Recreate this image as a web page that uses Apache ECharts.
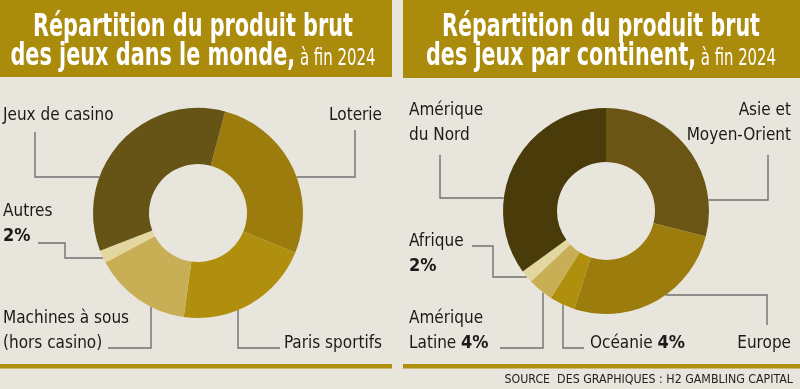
<!DOCTYPE html>
<html><head><meta charset="utf-8">
<script src="https://cdn.jsdelivr.net/npm/echarts@6/dist/echarts.min.js"></script>
<style>html,body{margin:0;padding:0;background:#e8e5dc}#c{width:800px;height:389px}</style>
</head><body><div id="c"></div>
<script>
// ---- data ----
const worldCategories = ['Loterie', 'Paris sportifs', 'Machines à sous (hors casino)', 'Autres', 'Jeux de casino'];
const worldValues = [27, 21, 15, 2, 35];
const worldLabels = ['Loterie', 'Paris sportifs', 'Machines à sous\n(hors casino)', 'Autres\n{p}', 'Jeux de casino'];
const contCategories = ['Asie et Moyen-Orient', 'Europe', 'Océanie', 'Amérique Latine', 'Afrique', 'Amérique du Nord'];
const contValues = [29, 26, 4, 4, 2, 35];
const contLabels = ['Asie et\nMoyen-Orient', 'Europe', 'Océanie {p}', 'Amérique\nLatine {p}', 'Afrique\n{p}', 'Amérique\ndu Nord'];
const titleWorld = ['Répartition du produit brut', 'des jeux dans le monde,', ' à fin 2024'];
const titleCont = ['Répartition du produit brut', 'des jeux par continent,', ' à fin 2024'];
const sourceText = 'SOURCE  DES GRAPHIQUES : H2 GAMBLING CAPITAL';

// ---- styles / layout ----
const FONT = '"Liberation Sans Narrow", "DejaVu Sans Condensed", "Noto Sans", sans-serif';
const worldColors = ['#9b7c0c', '#b08f0e', '#c8af55', '#e3d69e', '#665417'];
const contColors = ['#6a5514', '#9b7c0c', '#b08f0e', '#c8af55', '#e3d69e', '#4a3b0b'];
const GOLD = '#ab8b0b';
const worldCenter = [198, 213], worldR = [49, 105];
const contCenter = [606, 211], contR = [49, 103];
const LABEL_SIZE = 17;

const worldPos = [
  {x: 382, base: 122, align: 'right', line: [[355, 130], [355, 177]], end: 'h'},
  {x: 382, base: 350, align: 'right', line: [[280, 348], [238, 348]], end: 'v'},
  {x: 3, base: 350, align: 'left', line: [[108, 348], [151, 348]], end: 'v'},
  {x: 3, base: 243, align: 'left', line: [[38, 243], [65, 243], [65, 258]], end: 'h'},
  {x: 3, base: 122, align: 'left', line: [[35, 132], [35, 177]], end: 'h'}
];
const contPos = [
  {x: 791, base: 142, align: 'right', line: [[768, 155], [768, 200]], end: 'h'},
  {x: 791, base: 350, align: 'right', line: [[767, 325], [767, 295]], end: 'h'},
  {x: 590, base: 350, align: 'left', line: [[584, 348], [563, 348]], end: 'v'},
  {x: 409, base: 350, align: 'left', line: [[500, 348], [543, 348]], end: 'v'},
  {x: 409, base: 273, align: 'left', line: [[472, 246], [493, 246], [493, 277]], end: 'h'},
  {x: 409, base: 142, align: 'left', line: [[440, 155], [440, 198]], end: 'h'}
];

function makeLayout(pos, center, r) {
  return function (params) {
    const p = pos[params.dataIndex];
    const pts = p.line.map(q => q.slice());
    const last = pts[pts.length - 1];
    let end;
    if (p.end === 'h') {
      const dy = last[1] - center[1];
      const dx = Math.sqrt(r * r - dy * dy);
      end = [center[0] + (last[0] < center[0] ? -dx : dx), last[1]];
    } else {
      const dx = last[0] - center[0];
      const dy = Math.sqrt(r * r - dx * dx);
      end = [last[0], center[1] + (last[1] > center[1] ? dy : -dy)];
    }
    pts.push(end);
    return {x: p.x, y: p.base + 6, align: p.align, verticalAlign: 'bottom', labelLinePoints: pts};
  };
}

function pieSeries(cats, vals, labels, colors, center, radius, pos, startAngle) {
  return {
    type: 'pie', center: center, radius: radius, startAngle: startAngle,
    clockwise: true, avoidLabelOverlap: false, silent: true, animation: false,
    data: cats.map((c, i) => ({name: c, value: vals[i], itemStyle: {color: colors[i]}})),
    label: {
      show: true, position: 'outside', width: 170, overflow: 'none',
      fontFamily: FONT, fontSize: LABEL_SIZE, lineHeight: 25, color: '#1a1a1a',
      formatter: params => labels[params.dataIndex].replace('{p}', '{p|' + Math.round(params.percent) + '%}'),
      rich: {p: {fontFamily: FONT, fontSize: LABEL_SIZE + 1, fontWeight: 'bold', lineHeight: 25, color: '#1a1a1a'}}
    },
    labelLine: {show: true, smooth: false, length: 10, length2: 10, lineStyle: {color: '#707070', width: 1.4}},
    labelLayout: makeLayout(pos, center, radius[1])
  };
}

// measure to horizontally condense the title like the original narrow typeface
const measureCtx = document.createElement('canvas').getContext('2d');
function textWidth(str, font) { measureCtx.font = font; return measureCtx.measureText(str).width; }
const TITLE_SIZE = 32;

function titleText(x, parts, targetWidth) {
  const w = textWidth(parts[0], 'bold ' + TITLE_SIZE + 'px ' + FONT);
  const sx = Math.min(1, targetWidth / w);
  return {
    type: 'text', x: x, y: 13, scaleX: sx, originX: 0, silent: true,
    style: {
      text: '{t|' + parts[0] + '}\n{t|' + parts[1] + '}{s|' + parts[2] + '}',
      align: 'center', verticalAlign: 'top', fill: '#fff',
      rich: {
        t: {fontFamily: FONT, fontSize: TITLE_SIZE, fontWeight: 'bold', lineHeight: 29, fill: '#fff'},
        s: {fontFamily: FONT, fontSize: 23, fontWeight: 'normal', lineHeight: 22, verticalAlign: 'bottom', fill: '#fff'}
      }
    }
  };
}

const chart = echarts.init(document.getElementById('c'), null, {renderer: 'canvas'});
chart.setOption({
  backgroundColor: '#e8e5dc',
  animation: false,
  graphic: [
    {type: 'rect', shape: {x: 0, y: 0, width: 392, height: 77}, style: {fill: GOLD}, silent: true},
    {type: 'rect', shape: {x: 403, y: 0, width: 397, height: 78}, style: {fill: GOLD}, silent: true},
    {type: 'rect', shape: {x: 0, y: 364, width: 392, height: 4.5}, style: {fill: '#b08f10'}, silent: true},
    {type: 'rect', shape: {x: 403, y: 364, width: 397, height: 4.5}, style: {fill: '#b08f10'}, silent: true},
    titleText(193, titleWorld, 320),
    titleText(601, titleCont, 318),
    {type: 'text', x: 793, y: 386, silent: true,
      style: {text: sourceText, align: 'right', verticalAlign: 'bottom', fill: '#222', font: '12.3px ' + FONT}}
  ],
  series: [
    pieSeries(worldCategories, worldValues, worldLabels, worldColors, worldCenter, worldR, worldPos, 75),
    pieSeries(contCategories, contValues, contLabels, contColors, contCenter, contR, contPos, 90)
  ]
});
</script></body></html>
